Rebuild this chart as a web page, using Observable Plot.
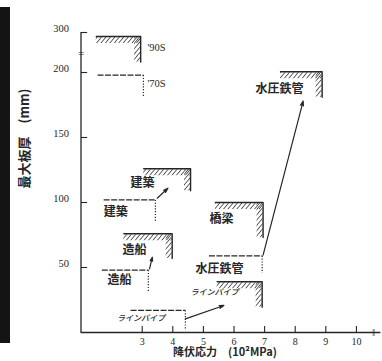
<!DOCTYPE html>
<html>
<head>
<meta charset="utf-8">
<script src="https://cdn.jsdelivr.net/npm/d3@7"></script>
<script src="https://cdn.jsdelivr.net/npm/@observablehq/plot@0.6"></script>
<style>
  html, body { margin: 0; padding: 0; background: #fff; }
  #wrap { position: relative; width: 382px; height: 361px; overflow: hidden; }
  #strip { position: absolute; left: 0; top: 7px; width: 10px; height: 336px; background: #141414; }
  svg { display: block; }
</style>
</head>
<body>
<div id="wrap"><div id="strip"></div></div>
<script>
// ---- data ----
const yTicks = [50, 100, 150, 200, 300];
const xTicks = [3, 4, 5, 6, 7, 8, 9, 10];

// hatched (current) limits: name, left x, corner x, top y, bottom y
const newNames  = ["'90S", "建築", "造船", "橋梁", "水圧鉄管", "ラインパイプ"];
const newX0     = [1.50, 3.05, 2.40, 5.39, 7.52, 5.45];
const newX1     = [2.95, 4.58, 3.98, 6.95, 8.88, 6.92];
const newTop    = [290, 126, 76, 100, 202, 39];
const newBottom = [226, 109, 57, 73, 181, 19.5];

// dashed (earlier) limits
const oldNames  = ["'70S", "建築", "造船", "水圧鉄管", "ラインパイプ"];
const oldX0     = [1.54, 1.74, 1.68, 5.18, 2.62];
const oldX1     = [3.04, 3.43, 3.20, 6.92, 4.41];
const oldTop    = [198, 102, 48, 59, 17];
const oldBottom = [182, 85, 31, 46, 3];

// arrows from earlier to current
const arrowX1 = [3.49, 3.24, 6.95, 4.41];
const arrowY1 = [103.3, 49, 59.5, 10.5];
const arrowX2 = [3.84, 3.33, 8.26, 5.67];
const arrowY2 = [111, 57.9, 178, 20.8];

// labels (left edge x, centre y)
const labelText = ["建築", "建築", "造船", "造船", "橋梁", "水圧鉄管", "水圧鉄管"];
const labelX    = [2.62, 1.74, 2.36, 1.87, 5.20, 4.74, 6.70];
const labelY    = [114.6, 92.3, 63.6, 40, 87.5, 49, 187.5];
const eraText   = ["'90S", "'70S"];
const eraX      = [3.17, 3.17];
const eraY      = [262.5, 191.5];
const kanaText  = ["ラインパイプ", "ラインパイプ"];
const kanaX     = [2.18, 4.58];
const kanaY     = [10.5, 31];

const axisBreaksY = [247.5];
const axisBreaksX = [10.56];

// broken y axis: 0–200 linear, 200–300 compressed
const yBreak = 200, yTop = 300, compress = 0.4 / 1.3;
const yWarp = v => v <= yBreak ? v : yBreak + (v - yBreak) * compress;

// ---- tables ----
const newZones = newNames.map((n, i) => ({n, x0: newX0[i], x1: newX1[i], top: newTop[i], bottom: newBottom[i]}));
const oldZones = oldNames.map((n, i) => ({n, x0: oldX0[i], x1: oldX1[i], top: oldTop[i], bottom: oldBottom[i]}));
const newPts = newZones.flatMap(z => [
  {n: z.n, x: z.x0, y: z.top}, {n: z.n, x: z.x1, y: z.top}, {n: z.n, x: z.x1, y: z.bottom}
]);
const arrows = arrowX1.map((_, i) => ({x1: arrowX1[i], y1: arrowY1[i], x2: arrowX2[i], y2: arrowY2[i]}));
const labels = labelText.map((t, i) => ({t, x: labelX[i], y: labelY[i]}));
const eras = eraText.map((t, i) => ({t, x: eraX[i], y: eraY[i]}));
const kana = kanaText.map((t, i) => ({t, x: kanaX[i], y: kanaY[i]}));

const ink = "#262626";
const serif = "'Liberation Serif', 'DejaVu Serif', serif";
const gothic = "'Noto Sans CJK JP', 'Noto Sans', sans-serif";

const chart = Plot.plot({
  width: 382,
  height: 361,
  marginLeft: 80.5,
  marginRight: 1.6,
  marginTop: 32,
  marginBottom: 29,
  style: {background: "transparent"},
  x: {domain: [1, 10.8], axis: null},
  y: {type: "linear", transform: yWarp, domain: [0, yWarp(yTop)], axis: null},
  marks: [
    // axes
    Plot.ruleX([1], {y1: 0, y2: yTop, stroke: ink, strokeWidth: 1.3}),
    Plot.ruleY([0], {x1: 1, x2: 10.8, stroke: ink, strokeWidth: 1.3}),
    Plot.link(yTicks, {x1: 1, x2: 1.2, y1: d => d, y2: d => d, stroke: ink, strokeWidth: 1.1}),
    Plot.link(xTicks, {x1: d => d, x2: d => d, y1: 0, y2: 5, stroke: ink, strokeWidth: 1.1}),
    Plot.text(yTicks, {x: 1, y: d => d, text: d => String(d), textAnchor: "end", dx: -12, dy: -3.5,
      fontFamily: serif, fontSize: 10.5, fill: ink}),
    Plot.text(xTicks, {x: d => d, y: 0, text: d => String(d), dy: 9,
      fontFamily: serif, fontSize: 10, fill: ink}),
    Plot.text(axisBreaksY, {x: 1, y: d => d, text: () => "=", fontSize: 11, fill: ink, fontFamily: serif}),
    Plot.text(axisBreaksX, {x: d => d, y: 0, text: () => "‖", fontSize: 10, fill: ink, fontFamily: serif}),
    Plot.text(["最大板厚　(mm)"], {frameAnchor: "left", rotate: -90, dx: -56, dy: 6,
      fontFamily: gothic, fontSize: 13, fontWeight: 600, fill: ink}),
    Plot.text(["降伏応力　(10²MPa)"], {frameAnchor: "bottom", dx: -6, dy: 23.5,
      fontFamily: gothic, fontSize: 11, fontWeight: 600, fill: ink}),

    // hatching bands
    Plot.ruleY(newZones, {x1: "x0", x2: "x1", y: "top", dy: 3.5, strokeWidth: 6, stroke: "url(#hatch)"}),
    Plot.ruleX(newZones, {x: "x1", y1: "bottom", y2: "top", dx: -3.5, strokeWidth: 6, stroke: "url(#hatch)"}),
    // current limits
    Plot.line(newPts, {x: "x", y: "y", z: "n", stroke: ink, strokeWidth: 1.4}),

    // earlier limits
    Plot.link(oldZones, {x1: "x0", x2: "x1", y1: "top", y2: "top", stroke: ink, strokeWidth: 1.2, strokeDasharray: "6,1.5"}),
    Plot.link(oldZones, {x1: "x1", x2: "x1", y1: "top", y2: "bottom", stroke: ink, strokeWidth: 1.2, strokeDasharray: "1.2,1.6"}),

    // arrows
    Plot.arrow(arrows, {x1: "x1", y1: "y1", x2: "x2", y2: "y2", stroke: ink, strokeWidth: 1.2, headLength: 6, headAngle: 35}),

    // labels
    Plot.text(labels, {x: "x", y: "y", text: "t", textAnchor: "start", fontFamily: gothic, fontSize: 12, fontWeight: 600, fill: ink}),
    Plot.text(eras, {x: "x", y: "y", text: "t", textAnchor: "start", fontFamily: serif, fontSize: 10.5, fill: ink}),
    Plot.text(kana, {x: "x", y: "y", text: "t", textAnchor: "start", fontFamily: gothic, fontSize: 8, fontStyle: "italic", fontWeight: 500, fill: ink})
  ]
});

// hatch pattern
const NS = "http://www.w3.org/2000/svg";
const defs = document.createElementNS(NS, "defs");
const pat = document.createElementNS(NS, "pattern");
pat.setAttribute("id", "hatch");
pat.setAttribute("patternUnits", "userSpaceOnUse");
pat.setAttribute("width", "3.4");
pat.setAttribute("height", "3.4");
pat.setAttribute("patternTransform", "rotate(40)");
const ln = document.createElementNS(NS, "line");
ln.setAttribute("x1", "0"); ln.setAttribute("y1", "0");
ln.setAttribute("x2", "0"); ln.setAttribute("y2", "3.4");
ln.setAttribute("stroke", "#333"); ln.setAttribute("stroke-width", "1.5");
pat.appendChild(ln);
defs.appendChild(pat);
chart.insertBefore(defs, chart.firstChild);

document.getElementById("wrap").appendChild(chart);
</script>
</body>
</html>
